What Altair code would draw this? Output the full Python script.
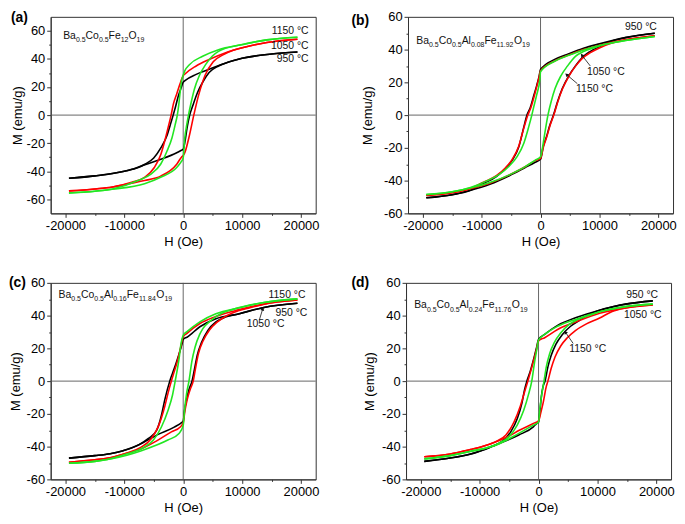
import math
import altair as alt
import pandas as pd

FONT = "Liberation Sans"
W, HH = 267, 198
XDOM = [-22500, 22500]
X_TICKS = list(range(-20000, 20001, 5000))
Y_TICKS = list(range(-60, 61, 10))
TEMPS = ["950", "1050", "1150"]
COLORS = ["#000000", "#ff0000", "#22e622"]

# ---------------- panel (a): Ba0.5Co0.5Fe12O19 ----------------
A950_UP = [(-19400, -45), (-15000, -43.3), (-10000, -40), (-8000, -37.6), (-6500, -35), (-5000, -30.5), (-3800, -23.3),
           (-2700, -14), (-2200, -7), (-1700, 0), (-1300, 6), (-800, 14), (-300, 20), (0, 23.5), (300, 24.6), (2200, 29),
           (4400, 32.6), (6500, 36.1), (10000, 40.5), (15000, 43.5), (19400, 45)]
A950_LO = [(-19400, -45), (-15000, -43.3), (-10000, -40), (-8000, -37.8), (-6500, -35.4), (-3800, -31.5), (-1100, -26.8),
           (-300, -25), (0, -24.3), (300, -19), (650, -9.3), (1100, 0), (1650, 7), (2450, 16.3), (3300, 23.3), (4400, 30.3),
           (6000, 35), (7700, 37.8), (10000, 40.5), (15000, 43.5), (19400, 45)]
A1050_UP = [(-19400, -54), (-15000, -52.6), (-12000, -51.2), (-8750, -47.8), (-6560, -44.3), (-4900, -37.3), (-3800, -28),
            (-3000, -16.3), (-2450, -7), (-2050, 0), (-1650, 8.2), (-1100, 15.1), (-550, 22.1), (0, 28), (300, 29.3),
            (2200, 35), (4400, 39.6), (7100, 44.3), (9850, 47.8), (14200, 51.7), (19400, 54)]
A1050_LO = [(-19400, -54), (-15000, -52.6), (-12000, -51.2), (-8750, -48.5), (-6560, -46.6), (-3830, -43.5), (-1100, -35),
            (-300, -30), (0, -28.7), (200, -27.5), (985, -15.8), (1800, 0), (2630, 14.4), (3720, 28.4), (5100, 38),
            (6850, 43.1), (8500, 46.2), (9850, 47.8), (14200, 51.7), (19400, 54)]
A1150_UP = [(-19400, -55.5), (-15000, -54.2), (-12000, -52.6), (-7660, -46.6), (-5470, -42), (-3830, -35), (-2740, -25.6),
            (-1910, -16.3), (-1370, -7), (-1000, 0), (-760, 7), (-520, 16.3), (-270, 24.5), (0, 28.4), (270, 31.5),
            (1100, 36.1), (3300, 41.9), (6000, 46.6), (9850, 50.1), (14200, 53.6), (19400, 55.5)]
A1150_LO = [(-19400, -55.5), (-15000, -54.2), (-12000, -52.8), (-6560, -48.9), (-3830, -44.3), (-1100, -37.3), (-300, -33),
            (0, -30.5), (270, -16.3), (600, -7), (900, 0), (1370, 9.3), (1910, 18.6), (2730, 28), (3830, 36.1),
            (4920, 41.9), (6000, 45.4), (9850, 50.1), (14200, 53.6), (19400, 55.5)]

# ---------------- panel (b): Ba0.5Co0.5Al0.08Fe11.92O19 ----------------
B950_UP = [(-19400, -50.5), (-15000, -48.6), (-12000, -46), (-9700, -41.8), (-7500, -37.5), (-5900, -32.5), (-4800, -27.5),
           (-3700, -19.5), (-2850, -7.5), (-2300, 0), (-1750, 4.5), (-1200, 11.2), (-650, 18), (-250, 23.5), (0, 27.8),
           (2400, 34), (4800, 37.5), (7300, 40.8), (10000, 43.5), (14400, 47.3), (19400, 50)]
B950_LO = [(-19400, -50.5), (-15000, -48.6), (-12000, -46), (-8600, -42.2), (-5300, -37), (-2600, -32), (-900, -28.8),
           (0, -27), (450, -19.3), (1000, -13.4), (1550, -6.5), (2200, 0), (2900, 8.3), (3700, 16.2), (4800, 24),
           (5900, 29.9), (7000, 34.9), (8400, 38.8), (10000, 41.8), (12000, 45), (14400, 47.3), (19400, 50)]
B1050_UP = [(-19400, -49), (-15000, -47.4), (-12000, -45), (-9700, -41), (-7500, -37), (-5900, -32), (-4800, -27),
            (-3700, -19), (-2800, -7.5), (-2150, 0), (-1650, 4.5), (-1100, 11.2), (-600, 18), (-250, 23), (0, 27),
            (2400, 33), (4800, 36.7), (7300, 40), (10000, 42.7), (14400, 46), (19400, 48.5)]
B1050_LO = [(-19400, -49), (-15000, -47.4), (-12000, -45), (-8600, -41.6), (-5300, -36.5), (-2600, -31.5), (-900, -27.8),
            (0, -26.5), (500, -19.3), (1050, -13.4), (1600, -6.5), (2250, 0), (2950, 8.3), (3750, 16.2), (4850, 24),
            (5950, 29.9), (7050, 34.5), (8400, 38), (10000, 41), (12000, 43.8), (14400, 46), (19400, 48.5)]
B1150_UP = [(-19400, -48.5), (-15000, -46.8), (-11900, -44.2), (-9200, -40.3), (-7000, -36.2), (-5300, -31.1),
            (-3950, -25.2), (-2850, -17.3), (-2030, -7.5), (-1480, 0), (-1200, 4.3), (-660, 12.2), (-110, 22), (0, 26.5),
            (2400, 32.9), (4800, 36.5), (7300, 39.8), (10000, 42.5), (14400, 45.5), (19400, 48)]
B1150_LO = [(-19400, -48.5), (-15000, -46.8), (-11900, -44.5), (-8600, -41.2), (-5300, -36.5), (-2600, -31.5),
            (-900, -27.5), (0, -25.5), (270, -21.3), (710, -11.4), (1260, 0), (1810, 8.3), (2470, 16.2), (3460, 24),
            (4560, 29.9), (5930, 35.9), (7300, 38.8), (9000, 41), (11000, 43.2), (14400, 45.5), (19400, 48)]

# ---------------- panel (c): Ba0.5Co0.5Al0.16Fe11.84O19 ----------------
C950_UP = [(-19400, -47), (-15000, -45.5), (-12400, -44.3), (-10200, -42.5), (-7500, -38.8), (-5900, -35), (-4500, -30),
           (-3700, -21), (-3100, -11), (-2280, 0), (-1800, 5), (-1250, 10.5), (-700, 16.5), (-160, 23.3), (0, 25.5),
           (650, 26.8), (2830, 33.2), (5550, 38.1), (9360, 41), (13700, 45), (19400, 47.5)]
C950_LO = [(-19400, -47), (-15000, -45.5), (-12400, -44.3), (-10200, -42.5), (-7500, -38.8), (-4240, -32.5),
           (-1520, -28.1), (-160, -25), (0, -24.5), (220, -18.2), (650, -10), (1000, -5), (1500, 0), (1900, 7),
           (2400, 16), (3100, 23.5), (4190, 31), (5550, 36.2), (7180, 39.1), (9360, 41), (13700, 45), (19400, 47.5)]
C1050_UP = [(-19400, -49.5), (-15000, -48), (-12400, -46.8), (-9700, -44), (-7200, -40.5), (-5500, -35.5), (-4200, -27.5),
            (-3100, -15), (-2550, -7), (-2010, 0), (-1500, 6), (-1000, 12), (-500, 19.5), (0, 27), (650, 29.2),
            (2830, 35.2), (5550, 39.5), (9360, 43.5), (13700, 47), (19400, 49.5)]
C1050_LO = [(-19400, -49.5), (-15000, -48), (-12400, -46.8), (-9700, -44.2), (-7200, -41.5), (-4500, -36.5),
            (-2000, -31), (-500, -28), (0, -25.5), (300, -18), (700, -11), (1200, -5), (1700, 0), (2100, 8), (2600, 17),
            (3370, 24.5), (4460, 31.2), (5820, 36.2), (7450, 40.1), (9360, 43), (11500, 45), (13700, 47), (19400, 49.5)]
C1150_UP = [(-19400, -50.2), (-15000, -49), (-12400, -47.4), (-9680, -44.5), (-6960, -41), (-5060, -36), (-3700, -28),
            (-2610, -18.2), (-1800, -8.3), (-1360, 0), (-980, 7.5), (-710, 13.4), (-435, 21.3), (0, 28), (650, 30.2),
            (2830, 36.2), (5550, 41.1), (9360, 44.7), (13700, 48), (19400, 50.2)]
C1150_LO = [(-19400, -50.2), (-15000, -49), (-12400, -47.6), (-6960, -42.3), (-2610, -36), (-710, -32), (0, -27),
            (250, -17), (600, -7), (980, 0), (1470, 12), (2000, 20.5), (2800, 28.5), (3370, 32.2), (4730, 37.1),
            (6360, 41.1), (8500, 43.8), (13700, 48), (19400, 50.2)]

# ---------------- panel (d): Ba0.5Co0.5Al0.24Fe11.76O19 ----------------
D950_UP = [(-19400, -49), (-15000, -47), (-11600, -44.5), (-8290, -40.5), (-6090, -36.5), (-4720, -31), (-3620, -23),
           (-2800, -13.1), (-2360, -5.1), (-1980, 0), (-1430, 5.7), (-880, 12.7), (-330, 20.6), (0, 25.5), (1040, 28.5),
           (3240, 34), (6530, 39), (10380, 43.3), (14770, 47), (19400, 49)]
D950_LO = [(-19400, -49), (-15000, -47), (-11600, -44.7), (-7190, -38.8), (-3350, -32.9), (-880, -27.9), (-330, -25.9),
           (0, -25), (220, -19), (490, -9.1), (770, -3.2), (1100, 0), (1590, 8.7), (2140, 15.6), (2960, 22.6),
           (4060, 28.5), (5440, 33.5), (7080, 37.4), (8500, 40.5), (10380, 43.3), (14770, 47), (19400, 49)]
D1050_UP = [(-19400, -46.2), (-15000, -44.5), (-11580, -41.8), (-9390, -39.8), (-7190, -36.8), (-5540, -32.9),
            (-4170, -25), (-3070, -15), (-2250, -5.1), (-1810, 0), (-1300, 6.5), (-800, 13), (-330, 19.6), (0, 24.6),
            (1040, 26.5), (3240, 31.5), (6530, 36.4), (10380, 41.4), (14770, 44.7), (19400, 46.5)]
D1050_LO = [(-19400, -46.2), (-15000, -44.5), (-11580, -41.8), (-9390, -39.8), (-7190, -37), (-5000, -33.5),
            (-3350, -30.2), (-880, -25.9), (0, -24.3), (400, -19), (800, -13), (1320, -3.2), (1590, 0), (2140, 7.7),
            (2800, 14.7), (3790, 21.6), (4890, 26.5), (6260, 30.9), (7900, 34.5), (10380, 38.5), (12500, 42.5),
            (14770, 44.7), (19400, 46.5)]
D1150_UP = [(-19400, -47.5), (-15000, -45.5), (-11580, -42.8), (-8840, -40.8), (-6640, -37.8), (-5000, -33.9),
            (-3620, -26.9), (-2530, -18), (-1700, -8.1), (-1150, 0), (-710, 10.7), (-330, 18.6), (0, 25), (1040, 28.5),
            (3240, 33.5), (6530, 38), (10380, 42.3), (14770, 45.5), (19400, 47)]
D1150_LO = [(-19400, -47.5), (-15000, -45.5), (-11580, -43), (-6640, -38.2), (-3350, -31.9), (-880, -26.9), (0, -25),
            (220, -17), (600, -7.1), (930, 0), (1320, 8.7), (1870, 16.6), (2690, 23.6), (3790, 29.5), (5160, 34.5),
            (6530, 37.4), (8500, 40), (10380, 42.3), (14770, 45.5), (19400, 47)]

# ---------------- annotation text ----------------
FORMULA_A = [("Ba", 0), ("0.5", 1), ("Co", 0), ("0.5", 1), ("Fe", 0), ("12", 1), ("O", 0), ("19", 1)]
FORMULA_B = [("Ba", 0), ("0.5", 1), ("Co", 0), ("0.5", 1), ("Al", 0), ("0.08", 1), ("Fe", 0), ("11.92", 1), ("O", 0), ("19", 1)]
FORMULA_C = [("Ba", 0), ("0.5", 1), ("Co", 0), ("0.5", 1), ("Al", 0), ("0.16", 1), ("Fe", 0), ("11.84", 1), ("O", 0), ("19", 1)]
FORMULA_D = [("Ba", 0), ("0.5", 1), ("Co", 0), ("0.5", 1), ("Al", 0), ("0.24", 1), ("Fe", 0), ("11.76", 1), ("O", 0), ("19", 1)]

LABELS_A = [("1150 °C", 21300, 59.7, "right"), ("1050 °C", 21300, 49.5, "right"), ("950 °C", 21300, 39.7, "right")]
LABELS_B = [("950 °C", 19750, 54, "right"), ("1050 °C", 7900, 26, "left"), ("1150 °C", 6040, 15.8, "left")]
LABELS_C = [("1150 °C", 20770, 52.7, "right"), ("950 °C", 21090, 41.8, "right"), ("1050 °C", 10800, 34.9, "left")]
LABELS_D = [("950 °C", 20310, 52.5, "right"), ("1050 °C", 20900, 40.5, "right"), ("1150 °C", 5220, 19.5, "left")]

ARROWS_A = []
ARROWS_B = [(8450, 30, 7080, 36.3), (6250, 19.2, 4500, 24.5)]
ARROWS_C = [(12940, 37.5, 13480, 43.8)]
ARROWS_D = [(5880, 23, 4610, 29.6)]

CHAR_W = {"B": 0.667, "a": 0.556, "C": 0.722, "o": 0.556, "F": 0.611, "e": 0.556, "O": 0.778,
          "A": 0.667, "l": 0.222, ".": 0.278}
MAIN_SIZE, SUB_SIZE = 10.5, 7


def text_px(s, size):
    return sum(CHAR_W.get(c, 0.556) for c in s) * size


def xenc():
    return alt.X("H:Q", scale=alt.Scale(domain=XDOM, nice=False, zero=False),
                 axis=alt.Axis(values=X_TICKS, title="H (Oe)", grid=False,
                               labelExpr="datum.value % 10000 === 0 ? '' + datum.value : ''",
                               tickSize={"condition": {"test": "datum.value % 10000 !== 0", "value": 2}, "value": 4},
                               labelFlush=False, labelOverlap=False, labelPadding=2, titlePadding=3))


def yenc(ydom, tpad):
    return alt.Y("M:Q", scale=alt.Scale(domain=ydom, nice=False, zero=False),
                 axis=alt.Axis(values=Y_TICKS, title="M (emu/g)", grid=False,
                               labelExpr="datum.value % 20 === 0 ? '' + datum.value : ''",
                               tickSize={"condition": {"test": "datum.value % 20 !== 0", "value": 2}, "value": 4},
                               labelFlush=False, labelOverlap=False, labelPadding=2, titlePadding=tpad))


def panel(tag, ydom, branches, formula, f_anchor, labels, arrows, tag_x, tag_y, tpad):
    X = xenc()
    Y = yenc(ydom, tpad)
    rows = []
    for temp, up, lo in branches:
        rows += [{"H": h, "M": m, "T": temp, "S": temp + "u"} for h, m in up]
        rows += [{"H": h, "M": m, "T": temp, "S": temp + "l"} for h, m in lo]
    lines = alt.Chart(pd.DataFrame(rows)).mark_line(strokeWidth=1.6, interpolate="monotone").encode(
        x=X, y=Y,
        color=alt.Color("T:N", scale=alt.Scale(domain=TEMPS, range=COLORS), legend=None),
        detail="S:N",
    )
    zx = alt.Chart(pd.DataFrame({"H": [0]})).mark_rule(color="#555", strokeWidth=0.9).encode(x=X)
    zy = alt.Chart(pd.DataFrame({"M": [0]})).mark_rule(color="#555", strokeWidth=0.9).encode(y=Y)

    # formula with subscripts
    per_px = (XDOM[1] - XDOM[0]) / W
    h0, m0 = f_anchor
    xpos = 0.0
    main_rows, sub_rows = [], []
    for s, sub in formula:
        r = {"H": h0 + xpos * per_px, "M": m0, "t": s}
        if sub:
            sub_rows.append(r)
            xpos += text_px(s, SUB_SIZE)
        else:
            main_rows.append(r)
            xpos += text_px(s, MAIN_SIZE)
    fmain = alt.Chart(pd.DataFrame(main_rows)).mark_text(
        align="left", baseline="alphabetic", fontSize=MAIN_SIZE, font=FONT, color="#111").encode(x=X, y=Y, text="t:N")
    fsub = alt.Chart(pd.DataFrame(sub_rows)).mark_text(
        align="left", baseline="alphabetic", fontSize=SUB_SIZE, dy=3.3, font=FONT, color="#111").encode(x=X, y=Y, text="t:N")

    layers = [zx, zy, lines, fmain, fsub]
    for al in ["left", "right"]:
        lr = [{"H": h, "M": m, "t": t} for t, h, m, a in labels if a == al]
        if lr:
            layers.append(alt.Chart(pd.DataFrame(lr)).mark_text(
                align=al, baseline="middle", fontSize=10.5, font=FONT, color="#111").encode(x=X, y=Y, text="t:N"))
    if arrows:
        ysp = ydom[1] - ydom[0]
        arr, heads = [], []
        for h1, m1, h2, m2 in arrows:
            dxp = (h2 - h1) * W / (XDOM[1] - XDOM[0])
            dyp = -(m2 - m1) * HH / ysp
            ang = math.degrees(math.atan2(dxp, -dyp)) % 360
            arr.append({"H": h1, "M": m1, "H2": h2, "M2": m2})
            heads.append({"H": h2, "M": m2, "ang": ang})
        layers.append(alt.Chart(pd.DataFrame(arr)).mark_rule(color="#111", strokeWidth=0.8).encode(
            x=X, y=Y, x2="H2:Q", y2="M2:Q"))
        layers.append(alt.Chart(pd.DataFrame(heads)).mark_point(
            shape="triangle", filled=True, size=16, color="#111", opacity=1).encode(
            x=X, y=Y, angle=alt.Angle("ang:Q", scale=None)))
    tagc = alt.Chart(pd.DataFrame({"t": [tag]})).mark_text(
        align="left", baseline="alphabetic", fontSize=14, fontWeight="bold", font=FONT, color="#000").encode(
        x=alt.value(tag_x), y=alt.value(tag_y), text="t:N")
    layers.append(tagc)
    return alt.layer(*layers).properties(width=W, height=HH)


pa = panel("(a)", [-70, 70], [("950", A950_UP, A950_LO), ("1050", A1050_UP, A1050_LO), ("1150", A1150_UP, A1150_LO)],
           FORMULA_A, (-20380, 54.1), LABELS_A, ARROWS_A, -40, 5, 2)
pb = panel("(b)", [-60, 60], [("950", B950_UP, B950_LO), ("1050", B1050_UP, B1050_LO), ("1150", B1150_UP, B1150_LO)],
           FORMULA_B, (-21100, 43.6), LABELS_B, ARROWS_B, -57, 8, 9)
pc = panel("(c)", [-60, 60], [("950", C950_UP, C950_LO), ("1050", C1050_UP, C1050_LO), ("1150", C1150_UP, C1150_LO)],
           FORMULA_C, (-21160, 50.7), LABELS_C, ARROWS_C, -42, 4, 4)
pd_ = panel("(d)", [-60, 60], [("950", D950_UP, D950_LO), ("1050", D1050_UP, D1050_LO), ("1150", D1150_UP, D1150_LO)],
            FORMULA_D, (-21120, 44.5), LABELS_D, ARROWS_D, -55, 4, 5)

chart = alt.vconcat(
    alt.hconcat(pa, pb, spacing=31),
    alt.hconcat(pc, pd_, spacing=31),
    spacing=26,
).properties(padding=0).configure_view(stroke="#333", strokeWidth=1).configure_axis(
    labelFont=FONT, titleFont=FONT, labelFontSize=13, titleFontSize=13, titleFontWeight="normal",
    labelColor="#000", titleColor="#000", domainColor="#333", tickColor="#333", domainWidth=1, tickWidth=1,
)

chart.save("out.html", embed_options={"renderer": "svg", "actions": False})
